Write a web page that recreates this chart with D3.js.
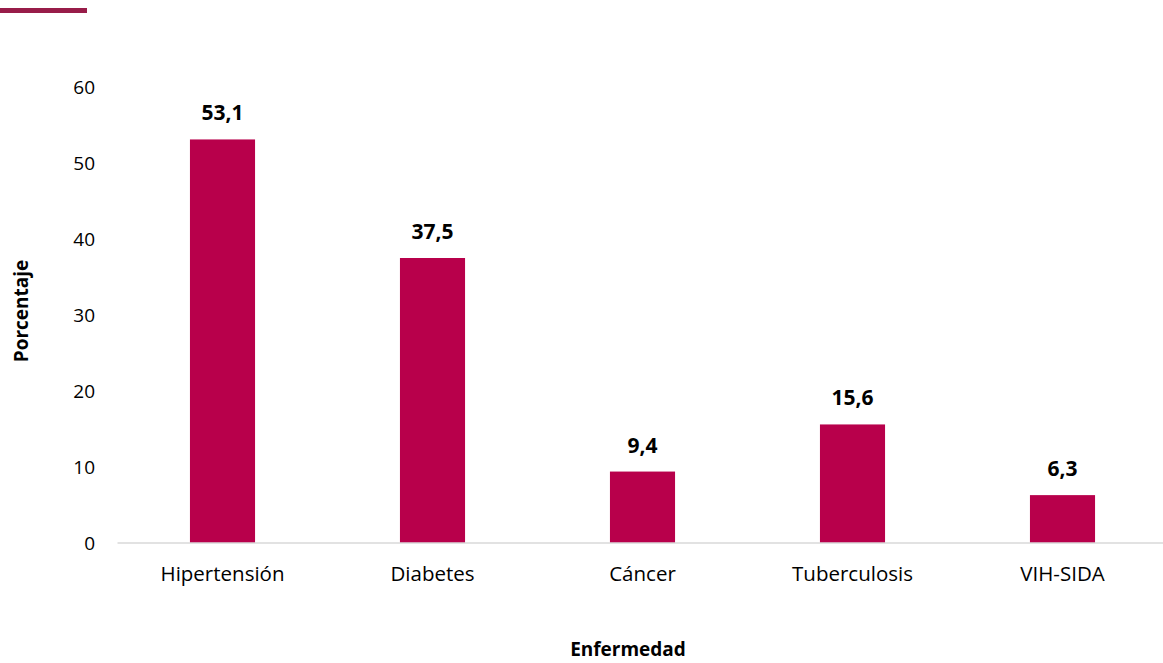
<!DOCTYPE html>
<html><head><meta charset="utf-8">
<script src="https://cdn.jsdelivr.net/npm/d3@7"></script>
<style>
body{margin:0;background:#fff;}
svg{display:block;}
text{font-family:"Open Sans",sans-serif;fill:#000;}
</style></head>
<body><svg id="c" width="1163" height="663"></svg>
<script>
const categories = ["Hipertensión","Diabetes","Cáncer","Tuberculosis","VIH-SIDA"];
const values = [53.1, 37.5, 9.4, 15.6, 6.3];
const valueLabels = ["53,1","37,5","9,4","15,6","6,3"];
const yTicks = [0,10,20,30,40,50,60];
const xTitle = "Enfermedad";
const yTitle = "Porcentaje";

const svg = d3.select("#c");
const x = d3.scaleBand().domain(categories).range([117.5,1167.5]).paddingInner(0.69).paddingOuter(0.345);
const y = d3.scaleLinear().domain([0,60]).range([543,87]);

// decorative top line
svg.append("rect").attr("x",0).attr("y",8).attr("width",87).attr("height",5).attr("fill","#981c49");

// y tick labels
svg.append("g").selectAll("text").data(yTicks).join("text")
  .attr("x",95).attr("y",d=>y(d)).attr("dy","0.35em").attr("text-anchor","end")
  .style("font-size","19px").text(d=>d);

// bars
svg.append("g").selectAll("rect").data(values).join("rect")
  .attr("x",(d,i)=>x(categories[i])).attr("width",x.bandwidth())
  .attr("y",d=>y(d)).attr("height",d=>y(0)-y(d)).attr("fill","#b8004b");

// axis line
svg.append("line").attr("x1",117.5).attr("x2",1163).attr("y1",y(0)).attr("y2",y(0))
  .attr("stroke","#d9d9d9").attr("stroke-width",1.5);

// x category labels
const xa = d3.axisBottom(x).tickSize(0).tickPadding(0);
const gx = svg.append("g").attr("transform",`translate(0,${y(0)})`).call(xa);
gx.select(".domain").remove();
gx.selectAll("text").attr("y",38).attr("dy",0).style("font-size","20.5px").style("font-family","'Open Sans',sans-serif").attr("fill","#000");

// value labels
svg.append("g").selectAll("text").data(values).join("text")
  .attr("x",(d,i)=>x(categories[i])+x.bandwidth()/2).attr("y",d=>y(d)-19)
  .attr("text-anchor","middle").style("font-size","21px").style("font-weight","bold")
  .text((d,i)=>valueLabels[i]);

// axis titles
svg.append("text").attr("x",628).attr("y",656).attr("text-anchor","middle")
  .style("font-size","19px").style("font-weight","bold").text(xTitle);
svg.append("text").attr("transform","translate(28,311) rotate(-90)").attr("text-anchor","middle")
  .style("font-size","19px").style("font-weight","bold").text(yTitle);
</script></body></html>
